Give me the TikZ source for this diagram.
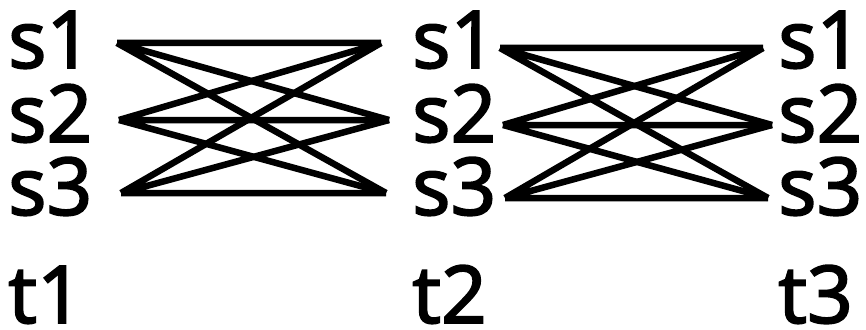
\documentclass[tikz,border=0pt]{standalone}
\usepackage{fontspec}
\setmainfont{Noto Sans}
\newfontfamily\lblfont{Noto Sans}[FakeBold=2]
\usetikzlibrary{positioning}

\begin{document}
\begin{tikzpicture}[x=1pt, y=-1pt,
                    lbl/.style={anchor=base west, inner sep=0pt, font=\lblfont\fontsize{80}{96}\selectfont},
                    link/.style={line width=6.5pt}]
                    \useasboundingbox (0,0) rectangle (866,329);

                    % Labels, stage 1
                    \node[lbl] (s1a) at (8, 68) {s1};
                    \node[lbl] (s2a) at (8, 142) {s2};
                    \node[lbl] (s3a) at (8, 215) {s3};
                    \node[lbl] (t1) at (8, 323) {t1};

                    % Labels, stage 2
                    \node[lbl] (s1b) at (412, 68) {s1};
                    \node[lbl] (s2b) at (412, 142) {s2};
                    \node[lbl] (s3b) at (412, 215) {s3};
                    \node[lbl] (t2) at (412, 323) {t2};

                    % Labels, stage 3
                    \node[lbl] (s1c) at (778, 68) {s1};
                    \node[lbl] (s2c) at (778, 142) {s2};
                    \node[lbl] (s3c) at (778, 215) {s3};
                    \node[lbl] (t3) at (778, 323) {t3};

                    % Line ends
                    \coordinate (p1a) at (117, 43); \coordinate (q1a) at (381, 43);
                    \coordinate (p2a) at (119, 120); \coordinate (q2a) at (389, 120);
                    \coordinate (p3a) at (121, 193); \coordinate (q3a) at (386, 193);

                    \coordinate (p1b) at (500, 48); \coordinate (q1b) at (763, 48);
                    \coordinate (p2b) at (503, 125); \coordinate (q2b) at (772, 125);
                    \coordinate (p3b) at (505, 198); \coordinate (q3b) at (768, 198);

                    % Stage 1 to stage 2
                    \draw[link] (p1a) -- (q1a) (p1a) -- (q2a) (p1a) -- (q3a);
                    \draw[link] (p2a) -- (q1a) (p2a) -- (q2a) (p2a) -- (q3a);
                    \draw[link] (p3a) -- (q1a) (p3a) -- (q2a) (p3a) -- (q3a);

                    % Stage 2 to stage 3
                    \draw[link] (p1b) -- (q1b) (p1b) -- (q2b) (p1b) -- (q3b);
                    \draw[link] (p2b) -- (q1b) (p2b) -- (q2b) (p2b) -- (q3b);
                    \draw[link] (p3b) -- (q1b) (p3b) -- (q2b) (p3b) -- (q3b);

                \end{tikzpicture}
\end{document}
